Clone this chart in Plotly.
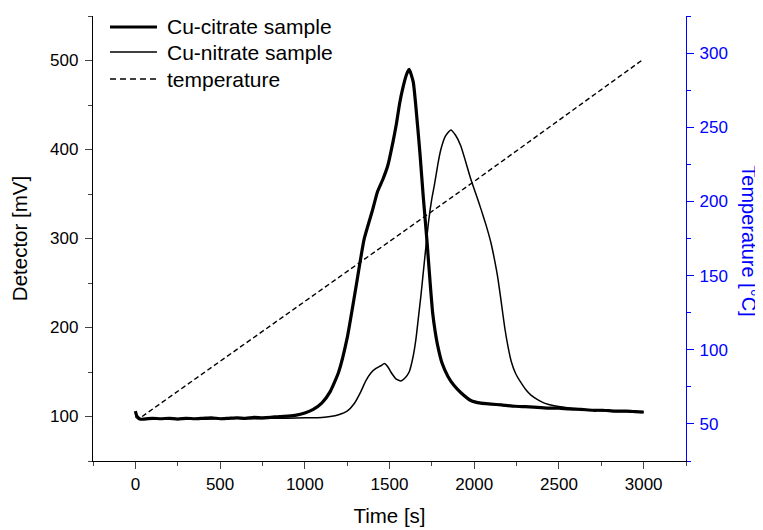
import plotly.graph_objects as go

# ---- data ----
citrate_t = [0, 10, 30, 100, 150, 200, 250, 300, 350, 400, 450, 500, 550, 600, 650, 700, 750, 800, 850, 900,
             950, 1000, 1050, 1100, 1150, 1200, 1250, 1300, 1350, 1400, 1430, 1460, 1490, 1520, 1540, 1560,
             1580, 1600, 1616, 1640, 1666, 1680, 1700, 1720, 1740, 1755, 1770, 1785, 1810, 1845, 1880, 1920,
             1980, 2040, 2100, 2160, 2240, 2300, 2350, 2430, 2500, 2560, 2630, 2700, 2760, 2830, 2900, 2950, 3000]
citrate_mv = [106, 100, 97, 98, 97.5, 98, 97, 98, 97.5, 98, 98.5, 97.5, 98, 98.5, 98, 99, 98.5, 99, 100, 100.5,
              101.5, 104, 108, 115, 128, 150, 188, 243, 299, 332, 353, 366, 382, 408, 428, 452,
              470, 484, 490, 476, 426, 395, 345, 300, 250, 216, 195, 179, 160, 145, 135, 127,
              118, 115, 114, 113, 111.5, 111, 110.5, 109.5, 109.5, 108.5, 108, 107, 107, 106, 106, 105.5, 105]

nitrate_t = [0, 20, 60, 100, 200, 300, 400, 500, 600, 700, 800, 900, 1000, 1050, 1100, 1150, 1200, 1250,
             1290, 1331, 1360, 1390, 1420, 1449, 1470, 1490, 1508, 1540, 1567, 1590, 1616, 1640, 1656, 1670,
             1685, 1700, 1715, 1730, 1750, 1764, 1785, 1803, 1830, 1862, 1890, 1921, 1950, 1981, 2010, 2040,
             2070, 2099, 2120, 2140, 2160, 2180, 2200, 2220, 2245, 2276, 2305, 2335, 2374, 2414, 2472, 2512,
             2560, 2620, 2700, 2800, 2900, 3000]
nitrate_mv = [100, 97, 97.5, 97.5, 97, 97.5, 97, 97.5, 98, 97.5, 98, 98, 98.5, 98.5, 99, 100, 102, 106,
              114, 128, 140, 149, 154, 157, 159.5, 156, 150, 142, 140, 143, 150, 168, 187, 210,
              235, 263, 291, 318, 345, 359, 383, 400, 415, 422, 416, 404, 386, 366, 350, 333,
              315, 295, 276, 255, 228, 200, 178, 161, 148, 138, 130, 124, 119, 115, 112, 111,
              109.5, 108.5, 107, 106, 105.5, 105]

temp_t = [40, 500, 1000, 1500, 2000, 2500, 3000]
temp_c = [55, 92, 132.5, 173, 213.5, 254.5, 296]

x_ticks = [0, 500, 1000, 1500, 2000, 2500, 3000]
y_ticks = [100, 200, 300, 400, 500]
y2_ticks = [50, 100, 150, 200, 250, 300]

series_names = ["Cu-citrate sample", "Cu-nitrate sample", "temperature"]

FONT = "Liberation Sans, Arial, sans-serif"
BLUE = "#0000FF"

line_styles = [dict(color="black", width=3.2, shape="spline", smoothing=0.5),
               dict(color="black", width=1.5, shape="spline", smoothing=0.5),
               dict(color="black", width=1.4, dash="5px,3px")]

fig = go.Figure()
fig.add_trace(go.Scatter(x=citrate_t, y=citrate_mv, mode="lines", name=series_names[0],
                         line=line_styles[0], showlegend=False))
fig.add_trace(go.Scatter(x=nitrate_t, y=nitrate_mv, mode="lines", name=series_names[1],
                         line=line_styles[1], showlegend=False))
fig.add_trace(go.Scatter(x=temp_t, y=temp_c, mode="lines", name=series_names[2], yaxis="y2",
                         line=line_styles[2], showlegend=False))

# manual legend (samples + labels) in paper coordinates
legend_rows = [0.9753, 0.9191, 0.8584]
sample_styles = [dict(color="black", width=3.2), dict(color="black", width=1.5),
                 dict(color="black", width=1.4, dash="6px,4px")]
shapes = []
annotations = []
for name, yr, st in zip(series_names, legend_rows, sample_styles):
    shapes.append(dict(type="line", xref="paper", yref="paper", x0=0.0287, x1=0.1079, y0=yr, y1=yr,
                       line=st))
    annotations.append(dict(text=name, xref="paper", yref="paper", x=0.1214, y=yr, xanchor="left",
                            yanchor="middle", showarrow=False, font=dict(size=21, family=FONT, color="black")))

annotations.append(dict(text="Temperature [°C]", xref="paper", yref="paper", x=1.107, y=0.495,
                        xanchor="center", yanchor="middle", textangle=90, showarrow=False,
                        font=dict(size=20, color=BLUE, family=FONT)))

# the page body adds an 8px offset, so the figure is 8px smaller than the window
fig.update_layout(
    width=755, height=522,
    margin=dict(l=85, r=77, t=8, b=69, autoexpand=False),
    paper_bgcolor="white", plot_bgcolor="white",
    font=dict(family=FONT, color="black", size=17),
    showlegend=False,
    xaxis=dict(range=[-250, 3250], tickmode="array", tickvals=x_ticks, ticks="outside", ticklen=7,
               tickwidth=1.3, showline=True, linecolor="black", linewidth=1.3, showgrid=False,
               zeroline=False, tickfont=dict(size=17), automargin=False,
               minor=dict(dtick=250, tick0=-250, ticks="outside", ticklen=4, tickwidth=1.3),
               title=dict(text="Time [s]", font=dict(size=20.5), standoff=16)),
    yaxis=dict(range=[50, 550], tickmode="array", tickvals=y_ticks, ticks="outside", ticklen=7,
               tickwidth=1.3, showline=True, linecolor="black", linewidth=1.3, showgrid=False,
               zeroline=False, tickfont=dict(size=17), automargin=False, ticklabelstandoff=3,
               minor=dict(dtick=50, tick0=50, ticks="outside", ticklen=4, tickwidth=1.3),
               title=dict(text="Detector [mV]", font=dict(size=20.5), standoff=19)),
    yaxis2=dict(range=[25, 325], overlaying="y", side="right", tickmode="array", tickvals=y2_ticks,
                ticks="outside", ticklen=7, tickwidth=1.3, showline=True, linecolor=BLUE, linewidth=1.3,
                tickcolor=BLUE, showgrid=False, zeroline=False, tickfont=dict(size=17, color=BLUE),
                automargin=False, ticklabelstandoff=2,
                minor=dict(dtick=25, tick0=25, ticks="outside", ticklen=4, tickwidth=1.3, tickcolor=BLUE)),
    shapes=shapes,
    annotations=annotations,
)

fig.write_html("out.html")
